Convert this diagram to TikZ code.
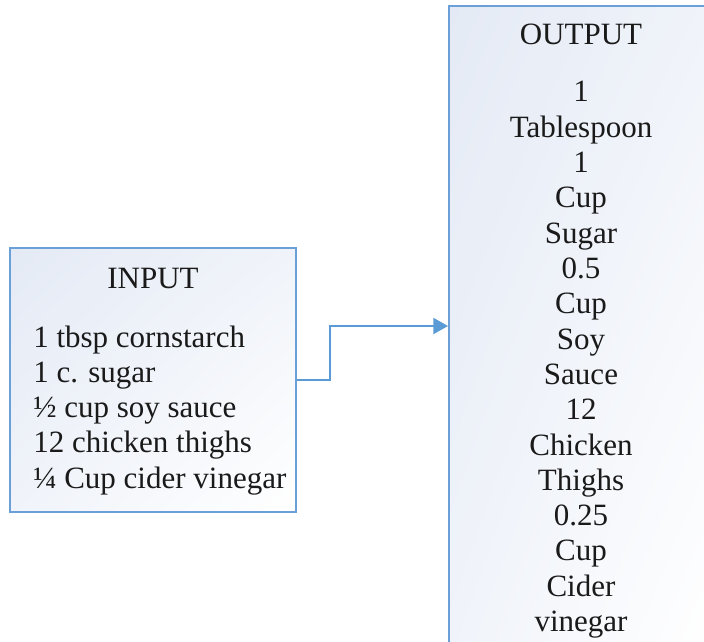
\documentclass[tikz,border=0pt]{standalone}
\usepackage{fontspec}
\setmainfont{Liberation Serif}
\usetikzlibrary{arrows.meta,shadings}

\definecolor{edgeblue}{HTML}{6A9FD8}
\definecolor{linkblue}{HTML}{5B9BD5}
\definecolor{tint}{HTML}{E4EAF5}
\definecolor{ink}{HTML}{1A1A1A}

\tikzset{
  box/.style={rectangle, draw=edgeblue, line width=1.5pt, inner sep=0pt,
    upper left=tint, upper right=tint!55!white,
    lower left=tint!55!white, lower right=white},
  label text/.style={anchor=base, inner sep=0pt, text=ink,
    font=\fontsize{23.25}{26.5}\selectfont},
  list text/.style={label text, anchor=base west},
  link/.style={draw=linkblue, line width=1.5pt,
    -{Triangle[length=11pt,width=12pt]}}
}

\begin{document}
\begin{tikzpicture}[x=0.75pt, y=-0.75pt]
  \useasboundingbox (0,0) rectangle (704,642);
  \clip (0,0) rectangle (704,642);
  \fill[white] (0,0) rectangle (704,642);

  % the two boxes
  \node[box, minimum width=214.5pt, minimum height=198pt] (inbox) at (153,380) {};
  \node[box, minimum width=198pt, minimum height=480pt] (outbox) at (581,326) {};

  % input box text
  \node[label text] (intitle) at (153,288) {INPUT};
  \foreach \t [count=\i from 0] in {1 tbsp cornstarch, 1 c. sugar,
      ½ cup soy sauce, 12 chicken thighs, ¼ Cup cider vinegar}
    \node[list text] (in\i) at (33,347+35.3*\i) {\t};

  % output box text
  \node[label text] (outtitle) at (581,45) {OUTPUT};
  \foreach \t [count=\i from 0] in {1, Tablespoon, 1, Cup, Sugar, 0.5, Cup,
      Soy, Sauce, 12, Chicken, Thighs, 0.25, Cup, Cider, vinegar}
    \node[label text] (out\i) at (581,102+35.3*\i) {\t};

  % connector with one step
  \coordinate (bend) at (330,380);
  \draw[link] (inbox.east) -- (bend) |- (outbox.west);
\end{tikzpicture}
\end{document}
